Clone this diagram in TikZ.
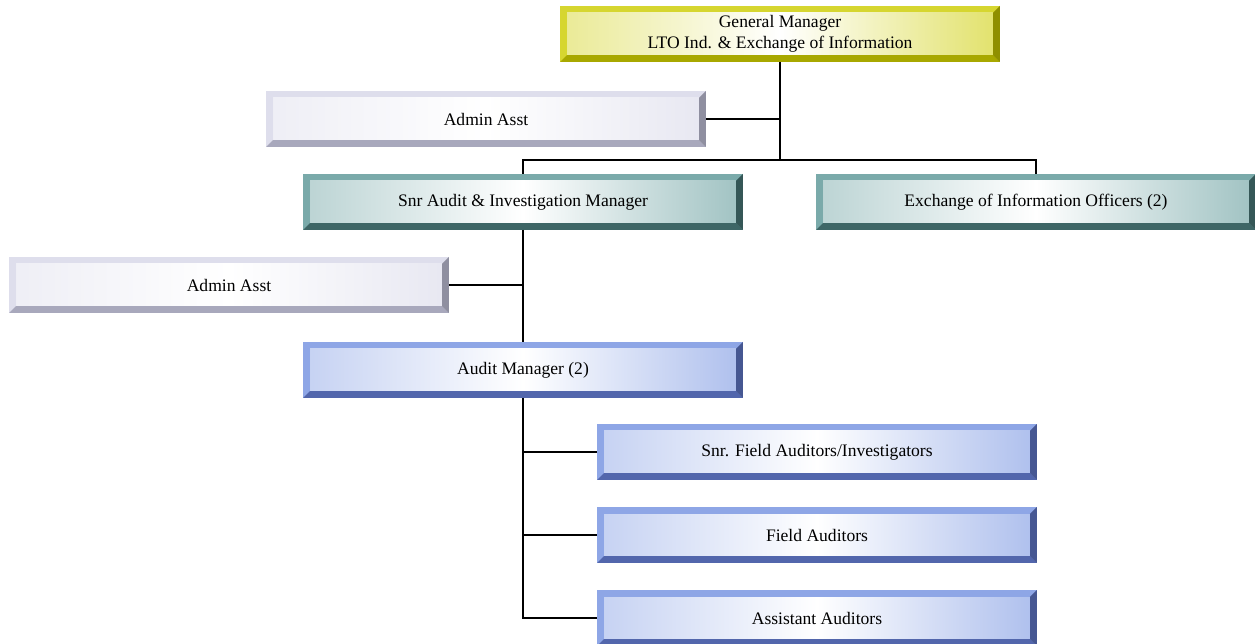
\documentclass[tikz,border=0pt]{standalone}
\usepackage{fontspec}
\setmainfont{Liberation Serif}

\definecolor{ylwlight}{RGB}{214,214,48}
\definecolor{ylwdark}{RGB}{168,168,0}
\definecolor{lavlight}{RGB}{222,222,236}
\definecolor{lavdark}{RGB}{168,168,188}
\definecolor{teallight}{RGB}{122,170,170}
\definecolor{tealdark}{RGB}{62,102,102}
\definecolor{bluelight}{RGB}{142,166,230}
\definecolor{bluedark}{RGB}{82,102,172}

\tikzset{
    bevelbox/.style={rectangle, minimum width=8.8cm, minimum height=1.12cm,
        inner sep=0pt, outer sep=0pt, fill=#1light, align=center,
        font=\fontsize{10}{12}\selectfont,
        path picture={
            \fill[#1dark] (path picture bounding box.south west)
                -- (path picture bounding box.south east)
                -- ([shift={(-0.14cm,0.14cm)}]path picture bounding box.south east)
                -- ([shift={(0.14cm,0.14cm)}]path picture bounding box.south west) -- cycle;
            \fill[#1dark!85!black] (path picture bounding box.south east)
                -- (path picture bounding box.north east)
                -- ([shift={(-0.14cm,-0.14cm)}]path picture bounding box.north east)
                -- ([shift={(-0.14cm,0.14cm)}]path picture bounding box.south east) -- cycle;
            \shade[left color=#1light!50, right color=#1light!70, middle color=white]
                ([shift={(0.14cm,0.14cm)}]path picture bounding box.south west)
                rectangle ([shift={(-0.14cm,-0.14cm)}]path picture bounding box.north east);
        }},
    link/.style={line width=0.8pt}
}

\begin{document}
\begin{tikzpicture}[x=0.02cm,y=-0.02cm]
    \useasboundingbox (0,0) rectangle (1255,644);

    \node[bevelbox=ylw]  (gm)   at (780,34)  {General Manager\\LTO Ind. \& Exchange of Information};
    \node[bevelbox=lav]  (adm1) at (486,119) {Admin Asst};
    \node[bevelbox=teal] (snr)  at (523,202) {Snr Audit \& Investigation Manager};
    \node[bevelbox=teal] (eoi)  at (1036,202) {Exchange of Information Officers (2)};
    \node[bevelbox=lav]  (adm2) at (229,285) {Admin Asst};
    \node[bevelbox=blue] (am)   at (523,370) {Audit Manager (2)};

    % staff under the audit manager
    \foreach \name/\y/\txt in {sfa/452/{Snr. Field Auditors/Investigators},
                               fa/535/{Field Auditors},
                               asst/618/{Assistant Auditors}}
    {
        \node[bevelbox=blue] (\name) at (817,\y) {\txt};
    }

    \coordinate (bus) at (780,160);

    \draw[link] (gm.south) -- (bus);
    \draw[link] (adm1.east) -- (adm1.east -| bus);
    \draw[link] (snr.north) |- (bus) -| (eoi.north);

    \draw[link] (snr.south) -- (am.north);
    \draw[link] (adm2.east) -- (adm2.east -| snr.south);

    \draw[link] (am.south) |- (asst.west);
    \draw[link] (sfa.west) -- (sfa.west -| am.south);
    \draw[link] (fa.west) -- (fa.west -| am.south);
\end{tikzpicture}
\end{document}
